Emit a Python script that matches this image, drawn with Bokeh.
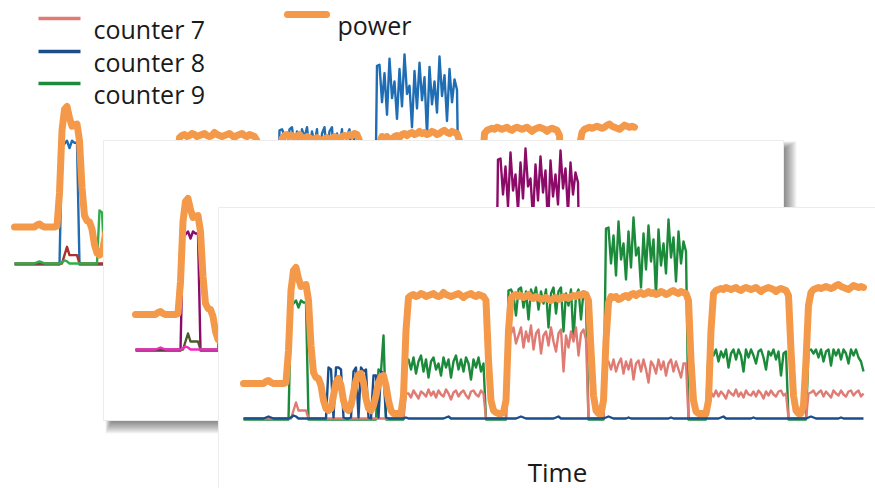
import numpy as np
from bokeh.plotting import figure
from bokeh.models import Range1d, ColumnDataSource
from bokeh.core.properties import value
from bokeh.embed import file_html
from bokeh.resources import INLINE

# ---------------- data (one sample every 0.5 s) ----------------
SAMPLE_STEP = 0.5

power = [
    18, 18, 18, 18, 18, 18, 18, 18, 18, 19, 19.5, 18.5, 18, 18, 18, 18, 18, 18.5,
    34.5, 64.5, 74.5, 76, 70.5, 66.5, 67, 67.5, 59.5, 37, 23.5, 21, 20.5, 17, 9.5, 5.5,
    4.5, 5.5, 12, 18.5, 20.5, 17, 9.5, 5.5, 4.5, 7, 13.5, 19.5, 22.5, 23, 18.5, 10.5,
    5.5, 4.5, 7, 12, 18.5, 21.5, 22, 17, 9.5, 4.5, 3, 3, 3, 3, 12, 44.5, 61,
    62, 62.5, 61.5, 62, 63, 62.5, 61.5, 62, 62.5, 63,
    62, 61.5, 62, 63.5, 62.5, 62, 61.5, 62, 62.5, 63,
    62, 61, 62, 62.5, 63, 62, 61.5, 62.5, 62, 61.5,
    59.5, 29.5, 9.5, 4.5, 3.5, 3, 3, 3.5, 9.5, 44.5, 60.5,
    62, 62.5, 61.5, 62, 61, 61.5, 62.5, 61, 60.5, 61.5,
    61, 60, 60.5, 61, 60, 59.5, 60.5, 61, 60, 60.5,
    61.5, 61, 60.5, 61.5, 62, 61.5, 62.5, 62, 63, 62.5,
    59.5, 34.5, 12, 4.5, 3, 3, 9.5, 39.5, 58.5, 61.5,
    61, 61.5, 60, 60.5, 61.5, 62, 61, 62.5, 63, 62,
    63, 63.5, 62.5, 63, 64, 63, 63.5, 62.5, 63, 64,
    63.5, 62.5, 63, 64, 64.5, 63.5, 63, 64, 63.5, 63,
    59.5, 29.5, 9.5, 4, 3, 3, 3, 3, 9.5, 44.5, 63,
    64.5, 65, 65.5, 65, 66, 65.5, 65, 65.5, 66, 65,
    64.5, 65.5, 66, 65.5, 65, 65.5, 66, 65, 64, 65,
    65.5, 66, 65.5, 65, 64, 65, 65.5, 65, 64.5,
    62, 34.5, 12, 4.5, 3, 3, 7, 29.5, 57, 63.5,
    65, 65.5, 66, 65.5, 66, 66.5, 66, 65.5, 66, 67,
    67.5, 66.5, 66, 65.5, 65, 66, 67, 66.5, 66, 66.5,
    66,
]

counter9 = [
    0, 0, 0, 0, 0, 0, 0, 0, 0, 0, 0, 0, 0, 0, 0, 0, 0, 0, 0,
    57, 58, 59.5, 56, 59.5, 58.5, 58.5,
    0, 0, 0, 0, 0, 0, 0, 0, 0, 0, 0, 0, 0, 0, 0, 0, 0, 0, 0, 0, 0, 0, 0, 0, 0, 0, 0, 0,
    25, 24, 42, 0,
    0, 0, 0, 0, 0, 0, 0,
    29.5,
    30, 25, 31, 23, 29, 32, 24, 30, 21, 29,
    31, 25, 28, 22, 31, 26, 30, 21, 29, 32,
    25, 30, 24, 31, 28, 20, 30, 26, 31, 24,
    28,
    0, 0, 0, 0, 0, 0, 0, 0, 0,
    64.5,
    65, 62, 52, 65, 66, 56, 64, 50, 65, 61,
    66, 55, 64, 58, 65, 46, 63, 66, 53, 64,
    66, 44, 63, 57, 65, 40, 62, 65, 50, 64,
    60,
    0, 0, 0, 0, 0, 0, 0,
    95.5,
    96, 78, 92, 72, 99, 80, 88, 70, 94, 76,
    101, 82, 86, 66, 93, 75, 97, 79, 90, 62,
    95, 77, 88, 73, 100, 81, 91, 69, 94, 78,
    89, 84,
    0, 0, 0, 0, 0, 0, 0, 0,
    34.5,
    35, 32, 35, 29, 34, 31, 35, 26, 33, 35,
    30, 35, 32, 24, 35, 31, 35, 32, 28, 34,
    35, 31, 25, 34, 32, 35, 30, 34, 22, 33,
    34,
    0, 0, 0, 0, 0, 0, 0, 0,
    34.5,
    35, 33, 35, 31, 35, 29, 34, 35, 27, 35,
    32, 35, 30, 35, 33, 28, 35, 32, 35, 31,
    29, 24,
]

counter7 = [
    0.5, 0.5, 0.5, 0.5, 0.5, 0.5, 0.5, 0.5, 0.5, 0.5, 0.5, 0.5, 0.5, 0.5, 0.5, 0.5, 0.5, 0.5, 0.5, 0.5,
    4.5, 8.5, 4.5, 4.5, 4.5, 4.5,
    0.5, 0.5, 0.5, 0.5, 0.5, 0.5, 0.5, 0.5, 0.5, 0.5, 0.5, 0.5, 0.5, 0.5, 0.5, 0.5, 0.5, 0.5, 0.5, 0.5,
    0.5, 0.5, 0.5, 0.5, 0.5, 0.5, 0.5, 0.5, 0.5, 0.5, 0.5, 0.5, 0.5, 0.5, 0.5, 0.5, 0.5, 0.5, 0.5,
    13,
    13, 11, 14.5, 12.5, 10.5, 14, 13, 11.5, 15, 12,
    14, 11, 14.5, 12.5, 11.5, 15, 13, 10, 13.5, 14.5,
    11.5, 13.5, 14.5, 12, 10.5, 14, 14.5, 12.5, 11.5, 14.5,
    13,
    0.5, 0.5, 0.5, 0.5, 0.5, 0.5, 0.5, 0.5, 0.5,
    42,
    43, 46, 38, 42, 46, 36, 44, 39, 47, 35,
    43, 45, 33, 42, 44, 37, 46, 39, 34, 43,
    45, 24, 42, 36, 44, 39, 46, 32, 43, 45,
    40,
    0.5, 0.5, 0.5, 0.5, 0.5, 0.5, 0.5,
    28,
    29, 25, 30, 24, 28, 30.5, 23, 29, 25, 30,
    20, 28, 29.5, 24, 30, 25, 18.5, 29, 27, 23,
    30, 25, 29, 22, 28, 30, 24, 29, 25, 21,
    28, 28,
    0.5, 0.5, 0.5, 0.5, 0.5, 0.5, 0.5, 0.5,
    13,
    13.5, 11.5, 14.5, 11.5, 14, 12.5, 10.5, 14.5, 13, 12,
    15, 11.5, 13.5, 11, 14.5, 12.5, 12, 14, 11.5, 14.5,
    13, 10.5, 14, 12, 14.5, 12.5, 11.5, 14, 14.5, 12,
    13,
    0.5, 0.5, 0.5, 0.5, 0.5, 0.5, 0.5, 0.5,
    13,
    13.5, 14.5, 12, 13.5, 14.5, 11.5, 14, 12.5, 11, 14.5,
    13, 12, 14.5, 12.5, 11.5, 14, 14.5, 12, 13.5, 14.5,
    11.5, 13,
]

counter8 = [
    0.5, 0.5, 0.5, 0.5, 0.5, 0.5, 0.5, 0.5, 0.5, 1,
    1.5, 1, 0.5, 0.5, 0.5, 0.5, 0.5, 0.5, 0.5, 1,
    2, 1.5, 0.5, 0.5, 0.5, 0.5, 0.5, 0.5, 0.5, 0.5,
    0.5, 0.5, 0.5, 0.5,
    26, 25, 1, 26, 26, 25, 1, 0.5, 0.5, 1,
    24, 26, 1, 26, 24, 25, 1, 0.5, 22, 22,
    1, 24, 23, 1,
    0.5, 0.5, 0.5, 0.5, 0.5, 0.5, 0.5, 1, 0.5, 0.5,
    0.5, 0.5, 0.5, 0.5, 0.5, 0.5, 0.5, 0.5, 0.5, 0.5,
    0.5, 0.5, 0.5, 1, 1.5, 0.5, 0.5, 0.5, 0.5, 0.5,
    0.5, 0.5, 0.5, 0.5, 0.5, 0.5, 0.5, 0.5, 0.5, 0.5,
    0.5, 0.5, 0.5, 0.5, 0.5, 0.5, 0.5, 0.5, 0.5, 0.5,
    0.5, 0.5, 1, 1.5, 1, 0.5, 0.5, 0.5, 0.5, 0.5,
    0.5, 0.5, 0.5, 0.5, 0.5, 0.5, 0.5, 1, 1.5, 0.5,
    0.5, 0.5, 0.5, 0.5, 0.5, 0.5, 0.5, 0.5, 0.5, 0.5,
    0.5, 0.5, 0.5, 0.5, 0.5, 0.5, 0.5, 1, 1.5, 1,
    0.5, 0.5, 0.5, 0.5, 0.5, 0.5, 1, 0.5, 0.5, 0.5,
    0.5, 0.5, 0.5, 0.5, 0.5, 0.5, 0.5, 0.5, 0.5, 0.5,
    0.5, 0.5, 0.5, 1, 0.5, 0.5, 0.5, 0.5, 0.5, 0.5,
    0.5, 0.5, 0.5, 0.5, 0.5, 0.5, 0.5, 0.5, 0.5, 0.5,
    0.5, 0.5, 0.5, 1, 1.5, 0.5, 0.5, 0.5, 0.5, 0.5,
    0.5, 0.5, 0.5, 0.5, 0.5, 0.5, 1, 0.5, 0.5, 0.5,
    0.5, 0.5, 0.5, 0.5, 0.5, 0.5, 0.5, 0.5, 0.5, 0.5,
    0.5, 0.5, 0.5, 0.5, 0.5, 0.5, 0.5, 0.5, 1, 1.5,
    1, 0.5, 0.5, 0.5, 0.5, 0.5, 0.5, 0.5, 0.5, 0.5,
    0.5, 1, 0.5, 0.5, 0.5, 0.5, 0.5, 0.5, 0.5, 0.5,
    0.5,
]

legend_labels = ["counter 7", "counter 8", "counter 9"]
power_label = "power"
x_label = "Time"

# ---------------- layout / style ----------------
W, H = 875, 488
FONT = "Open Sans"
ORANGE = "#f4994a"

panels = [
    dict(name="back", x0=14, y0=264, kx=5.0, ky=2.08,
         colors={"c7": "#a8322e", "c8": "#2fae48", "c9": "#1f6db4"}),
    dict(name="middle", x0=135, y0=350, kx=5.0, ky=2.0,
         colors={"c7": "#4b5a2c", "c8": "#ee2cc3", "c9": "#8d0b68"}),
    dict(name="front", x0=243, y0=419, kx=5.0, ky=2.0,
         colors={"c7": "#e07b74", "c8": "#1a4e8a", "c9": "#1b8a3a"}),
]
MID_BOX = dict(left=103, right=783, top=140, bottom=420)
FRONT_BOX = dict(left=218, right=W + 2, top=207, bottom=H + 2)

p = figure(width=W, height=H, x_range=Range1d(0, W), y_range=Range1d(H, 0),
           output_backend="svg", toolbar_location=None, min_border=0,
           x_axis_location=None, y_axis_location=None)
p.outline_line_color = None
p.background_fill_color = "white"
p.border_fill_color = "white"
p.xgrid.visible = False
p.ygrid.visible = False

p.extra_x_ranges = {pan["name"]: Range1d((0 - pan["x0"]) / pan["kx"], (W - pan["x0"]) / pan["kx"])
                    for pan in panels}
p.extra_y_ranges = {pan["name"]: Range1d((pan["y0"] - H) / pan["ky"], pan["y0"] / pan["ky"])
                    for pan in panels}


def make_source():
    def tt(v):
        return list(np.arange(len(v)) * SAMPLE_STEP)
    return dict(
        c9=ColumnDataSource(dict(t=tt(counter9), v=counter9)),
        c7=ColumnDataSource(dict(t=tt(counter7), v=counter7)),
        c8=ColumnDataSource(dict(t=tt(counter8), v=counter8)),
        pw=ColumnDataSource(dict(t=tt(power), v=power)),
    )


def draw_panel(pan):
    srcs = make_source()
    nm = pan["name"]
    for key in ["c9", "c7", "c8"]:
        p.line("t", "v", source=srcs[key], x_range_name=nm, y_range_name=nm,
               line_color=pan["colors"][key], line_width=2.4, line_join="round")
    p.line("t", "v", source=srcs["pw"], x_range_name=nm, y_range_name=nm,
           line_color=ORANGE, line_width=7, line_join="round", line_cap="round")


def draw_shadow(box, n=13, alpha=0.045):
    for j in range(n):
        p.quad(left=[box["left"] + 8 - j * 0.5], right=[box["right"] + 1 + j],
               top=[box["top"] + 8 - j * 0.6], bottom=[box["bottom"] + 1 + j],
               fill_color="black", fill_alpha=alpha, line_color=None)


def draw_box(box):
    p.quad(left=[box["left"]], right=[box["right"]], top=[box["top"]], bottom=[box["bottom"]],
           fill_color="white", line_color="#ececec", line_width=1)


# back panel
draw_panel(panels[0])
# middle panel
draw_shadow(MID_BOX)
draw_box(MID_BOX)
draw_panel(panels[1])
# front panel
draw_box(FRONT_BOX)
draw_panel(panels[2])

# legend (top-left)
leg_colors = [panels[2]["colors"][k] for k in ["c7", "c8", "c9"]]
leg_y = [18, 51, 83]
p.segment(x0=[38] * 3, x1=[80] * 3, y0=leg_y, y1=leg_y, line_color=leg_colors, line_width=3.5)
p.text(x=[93] * 3, y=[y + 10 for y in leg_y], text=legend_labels,
       text_font=value(FONT), text_font_size="25px", text_color="#1a1a1a",
       text_baseline="alphabetic", text_align="left")
p.segment(x0=[287], x1=[326], y0=[14], y1=[14], line_color=ORANGE, line_width=7, line_cap="round")
p.text(x=[337], y=[24], text=[power_label],
       text_font=value(FONT), text_font_size="25px", text_color="#1a1a1a",
       text_baseline="alphabetic", text_align="left")

# x-axis label of the front panel
p.text(x=[557], y=[471], text=[x_label],
       text_font=value(FONT), text_font_size="26px", text_color="#1a1a1a",
       text_baseline="alphabetic", text_align="center")

open("out.html", "w").write(file_html(p, INLINE))
